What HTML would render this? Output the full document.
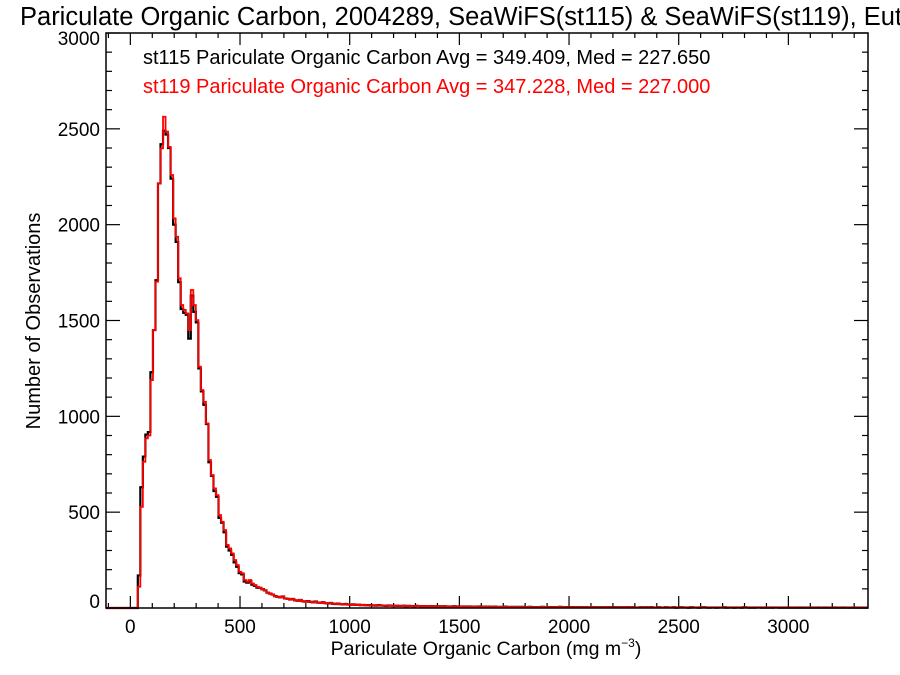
<!DOCTYPE html>
<html><head><meta charset="utf-8">
<style>
html,body{margin:0;padding:0;background:#fff;overflow:hidden;}
svg{display:block;font-family:"Liberation Sans",Arial,sans-serif;}
</style></head>
<body>
<svg id="chart" width="900" height="675" viewBox="0 0 900 675">
  <defs><clipPath id="plotclip"><rect x="106" y="33" width="762" height="577"/></clipPath></defs>
  <text x="20" y="25" font-size="25.5" fill="#000">Pariculate Organic Carbon, 2004289, SeaWiFS(st115) &amp; SeaWiFS(st119), Eutro</text>
  <text x="143" y="64" font-size="20" fill="#000">st115 Pariculate Organic Carbon Avg = 349.409, Med = 227.650</text>
  <text x="143" y="93" font-size="20" fill="#ff0000">st119 Pariculate Organic Carbon Avg = 347.228, Med = 227.000</text>
  <text x="486" y="655" font-size="19.5" text-anchor="middle" fill="#000">Pariculate Organic Carbon (mg m<tspan font-size="12" dy="-8">−3</tspan><tspan dy="8">)</tspan></text>
  <text transform="translate(40,321) rotate(-90)" font-size="20" text-anchor="middle" fill="#000">Number of Observations</text>
  <g id="axes"></g>
  <g id="series" clip-path="url(#plotclip)"></g>
  <rect x="106" y="33" width="762" height="575" fill="none" stroke="#000" stroke-width="1.5"/>
</svg>
<script>
const xTicks = [0, 500, 1000, 1500, 2000, 2500, 3000];
const yTicks = [0, 500, 1000, 1500, 2000, 2500, 3000];
const binStart = 34;
const binWidth = 11.5;
const mainRed = [111,528,763,885,900,1189,1450,1702,2215,2398,2563,2485,2406,2259,2033,1937,1720,1581,1555,1537,1450,1659,1581,1502,1259,1137,1076,963,772,694,624,589,485,450,407,329,311,285,250,224,189,181,146,137,146,128,120,110];
const mainBlack = [170,630,790,905,918,1230,1450,1710,2215,2420,2490,2470,2400,2240,2000,1910,1700,1560,1540,1530,1405,1630,1545,1490,1250,1130,1060,960,760,690,610,580,470,445,395,320,300,278,238,215,182,175,138,132,140,122,116,106];
const tailCounts = [105,98,92,80,75,70,62,58,55,60,50,48,44,47,40,38,42,35,33,36,
32,30,34,28,27,30,25,24,26,22,21,23,20,19,21,18,17,19,16,18,
15,16,14,15,13,14,12,15,13,12,11,13,12,10,12,11,10,12,9,11,
10,9,11,10,8,10,9,8,10,9,8,9,7,9,8,8,7,9,7,8,
7,8,6,8,7,6,7,8,6,7,6,7,5,7,6,6,5,7,6,5,
6,5,6,4,6,5,5,6,4,5,5,4,6,5,4,5,4,5,4,6,
4,5,4,4,5,3,5,4,4,5,3,4,5,4,3,4,4,3,5,4,
3,4,3,4,4,3,5,3,4,3,3,4,3,4,3,5,3,3,4,3,
3,4,3,3,4,2,3,4,3,3,2,4,3,3,2,3,4,3,2,3,
3,2,3,3,4,2,3,3,2,3,3,2,4,3,2,3,2,3,3,2,
3,2,3,2,3,3,2,2,3,2,3,2,2,3,2,3,2,2,3,2,
2,3,2,2,3,2,2,2,3,2,2,3,2,2,2,3,2,2,2,2,
2,2,3,2,2,2,3,2,2,2];

const plotL=106, plotR=868, plotT=33, plotB=608;
const xMin=-111, xMax=3363, yMin=0, yMax=3000;
function xs(v){return plotL+(v-xMin)/(xMax-xMin)*(plotR-plotL);}
function ys(v){return plotB-(v-yMin)/(yMax-yMin)*(plotB-plotT);}
const NS="http://www.w3.org/2000/svg";
const axes=document.getElementById('axes');
const series=document.getElementById('series');
function line(x1,y1,x2,y2,name){
  const l=document.createElementNS(NS,'line');
  l.setAttribute('x1',x1);l.setAttribute('y1',y1);l.setAttribute('x2',x2);l.setAttribute('y2',y2);
  l.setAttribute('stroke','#000');l.setAttribute('stroke-width','1.2');
  
  
  axes.appendChild(l);
}
for(let v=-100; v<=xMax; v+=100){
  const x=xs(v); const major=(v%500===0);
  const len=major?12:5;
  line(x,plotB,x,plotB-len,'x-tick');
  line(x,plotT,x,plotT+len,'x-tick-top');
}
xTicks.forEach(v=>{
  const t=document.createElementNS(NS,'text');
  t.setAttribute('x',xs(v));t.setAttribute('y',plotB+25);
  t.setAttribute('font-size','19');t.setAttribute('text-anchor','middle');
  t.textContent=v;
  
  
  axes.appendChild(t);
});
for(let v=0; v<=yMax; v+=100){
  const y=ys(v); const major=(v%500===0);
  const len=major?14:6;
  line(plotL,y,plotL+len,y,'y-tick');
  line(plotR,y,plotR-len,y,'y-tick-right');
}
yTicks.forEach(v=>{
  const t=document.createElementNS(NS,'text');
  t.setAttribute('x',plotL-6);t.setAttribute('y',ys(v)+(v===yMax?12:(v===0?0:7)));
  t.setAttribute('font-size','19');t.setAttribute('text-anchor','end');
  t.textContent=v;
  
  
  axes.appendChild(t);
});
function stepPath(counts){
  let d='M'+xs(xMin)+','+ys(0)+' L'+xs(binStart)+','+ys(0);
  counts.forEach((c,i)=>{
    const x0=xs(binStart+i*binWidth), x1=xs(binStart+(i+1)*binWidth);
    d+=' L'+x0+','+ys(c)+' L'+x1+','+ys(c);
  });
  return d;
}
const black=document.createElementNS(NS,'path');
black.setAttribute('d',stepPath(mainBlack.concat(tailCounts)));
black.setAttribute('fill','none');black.setAttribute('stroke','#000');black.setAttribute('stroke-width','2.2');


series.appendChild(black);
const red=document.createElementNS(NS,'path');
red.setAttribute('d',stepPath(mainRed.concat(tailCounts)));
red.setAttribute('fill','none');red.setAttribute('stroke','#ff0000');red.setAttribute('stroke-width','1.8');


series.appendChild(red);
</script>
</body></html>
